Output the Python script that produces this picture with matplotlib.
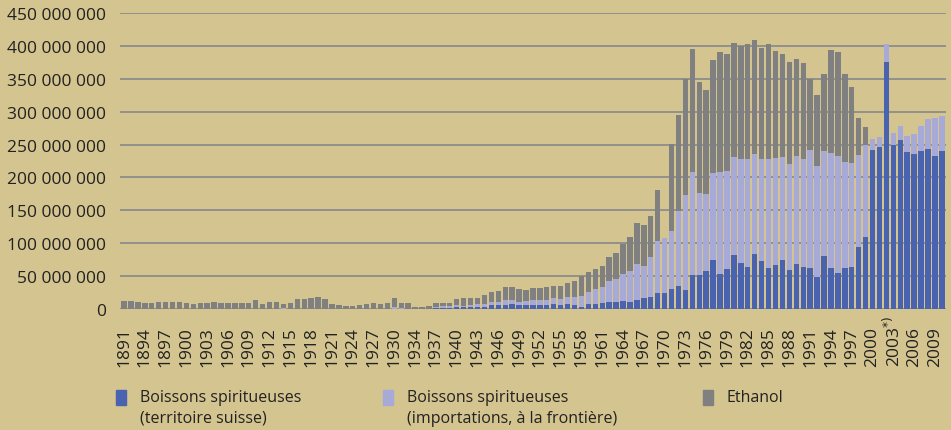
import matplotlib.pyplot as plt
from matplotlib.patches import Rectangle
from matplotlib.transforms import blended_transform_factory
import numpy as np

plt.rcParams['font.family'] = ['Open Sans', 'DejaVu Sans']

# Jahre (1931 fehlt in der Reihe)
years = list(range(1891, 1931)) + list(range(1932, 2011))

# Werte in Mio.
swiss = ([0] * 40
         + [0, 0, 0, 0, 0, 1.5, 2, 2]
         + [2.5, 2.5, 3, 3, 3.5, 5.6, 5.6, 6.6, 7, 5.6]
         + [5.6, 5.6, 5.6, 5.6, 8, 5.6, 8, 5.6, 3, 7.6]
         + [7, 8.7, 10, 10, 11.7, 10.7, 14, 17, 18, 24.5]
         + [25, 29.8, 35.6, 28.3, 52.2, 51.2, 57.5, 74.6, 52.7, 60.3]
         + [82.5, 69.5, 64.3, 84.3, 72.9, 63, 66.7, 74.3, 60, 67.7]
         + [64, 61.6, 48.9, 80.4, 62.6, 54, 61.6, 64.6, 93.7, 109]
         + [241.8, 246.9, 376, 250, 256.5, 238.7, 235.7, 240.8, 242.8, 233, 239.7])

imports = ([0] * 23 + [2] + [0] * 15 + [2.5]
           + [1, 0, 0, 0, 0, 1.5, 2, 3]
           + [3.5, 2.5, 3, 4, 3.5, 4.4, 5.4, 6.4, 7, 5.4]
           + [6.4, 8.2, 8.2, 8.7, 9.3, 9.9, 11, 13.4, 17, 18.9]
           + [23.6, 25, 33, 35, 41.3, 47.3, 55, 49, 60.5, 78.5]
           + [82.6, 89, 112.9, 145.7, 156.1, 125.6, 117.3, 132.2, 156.1, 150.2]
           + [148.5, 157.8, 163, 151.4, 154.4, 165.5, 162.9, 156.3, 160.4, 165.3]
           + [164.5, 179.4, 167.9, 159.3, 174.4, 179, 161.4, 157.8, 140.9, 140]
           + [16.8, 14.7, 26.6, 17.7, 21.5, 23.9, 30.3, 37.2, 46.2, 57.6, 53.3])

ethanol = ([12, 12, 11, 9.6, 9.6, 10.6, 11, 11, 10.6, 9.6]
           + [8, 8.6, 9.6, 10.6, 9.6, 9.6, 9.6, 9.6, 9, 14]
           + [8, 10.6, 10.6, 6, 9.6, 15.7, 15.7, 16.7, 18, 15]
           + [7, 5.6, 5, 4.5, 5.8, 8, 8.5, 8, 9, 13.5]
           + [7.6, 9.7, 3.6, 2.5, 5, 6.7, 5.7, 4.7]
           + [9.3, 12.3, 10, 9, 14.4, 16.5, 16.5, 21, 20, 19]
           + [16.5, 17.8, 18.8, 19.4, 18.4, 19.2, 21, 23, 30, 29.1]
           + [30.4, 32.3, 36, 40, 46.5, 52, 61, 62, 63.5, 77.5]
           + [0, 131.7, 146.5, 175, 187.2, 168.2, 158.2, 171.2, 181.2, 176.5]
           + [173, 172.7, 176.3, 174, 169.4, 174.1, 162.4, 157.8, 155.6, 147]
           + [146.1, 108, 108.2, 118.1, 156.5, 158, 133.8, 115.6, 56, 28.4]
           + [0] * 11)

labels = ["Boissons spiritueuses\n(territoire suisse)",
          "Boissons spiritueuses\n(importations, à la frontière)",
          "Ethanol"]

bg = '#d4c48f'
c_swiss = '#4a63b0'
c_imp = '#a7aad6'
c_eth = '#808080'
grid_c = '#8c8c8c'
txt_c = '#222222'

swiss = np.array(swiss) * 1e6
imports = np.array(imports) * 1e6
ethanol = np.array(ethanol) * 1e6

fig = plt.figure(figsize=(9.51, 4.31), dpi=100, facecolor=bg)
ax = fig.add_axes([120 / 951, 121 / 431, 826 / 951, 296 / 431])
ax.set_facecolor(bg)

x = np.arange(len(years))
ax.bar(x, swiss, width=0.78, color=c_swiss, zorder=2)
ax.bar(x, imports, bottom=swiss, width=0.78, color=c_imp, zorder=2)
ax.bar(x, ethanol, bottom=swiss + imports, width=0.78, color=c_eth, zorder=2)

ax.set_xlim(-0.58, 118.6)
ax.set_ylim(0, 450e6)
ax.set_yticks(np.arange(0, 450e6 + 1, 50e6))
ax.set_yticklabels(['{:,}'.format(int(v)).replace(',', ' ') for v in ax.get_yticks()],
                   fontsize=12.5, color=txt_c)
ax.tick_params(axis='y', length=0, pad=10)
ax.yaxis.grid(True, color=grid_c, lw=1.3, zorder=1)
ax.set_axisbelow(True)
for s in ax.spines.values():
    s.set_visible(False)

# x-Beschriftung: jedes dritte Jahr, unten bündig
ax.set_xticks([])
trans = blended_transform_factory(ax.transData, ax.transAxes)
for i in range(0, len(years), 3):
    lab = str(years[i])
    if years[i] == 2003:
        lab = r'2003$^{*)}$'
    ax.text(i, -0.193, lab, rotation=90, ha='center', va='bottom',
            fontsize=12.5, color=txt_c, transform=trans)

# Legende
leg_x = [116, 383, 703]
colors = [c_swiss, c_imp, c_eth]
for lx, col, lab in zip(leg_x, colors, labels):
    fig.add_artist(Rectangle((lx / 951, 1 - 406 / 431), 10 / 951, 15 / 431,
                             transform=fig.transFigure, color=col))
    fig.text((lx + 24) / 951, 1 - 390 / 431, lab, fontsize=11.5, color=txt_c,
             va='top', ha='left', linespacing=1.4)

fig.savefig('out.png', dpi=100, facecolor=bg)
